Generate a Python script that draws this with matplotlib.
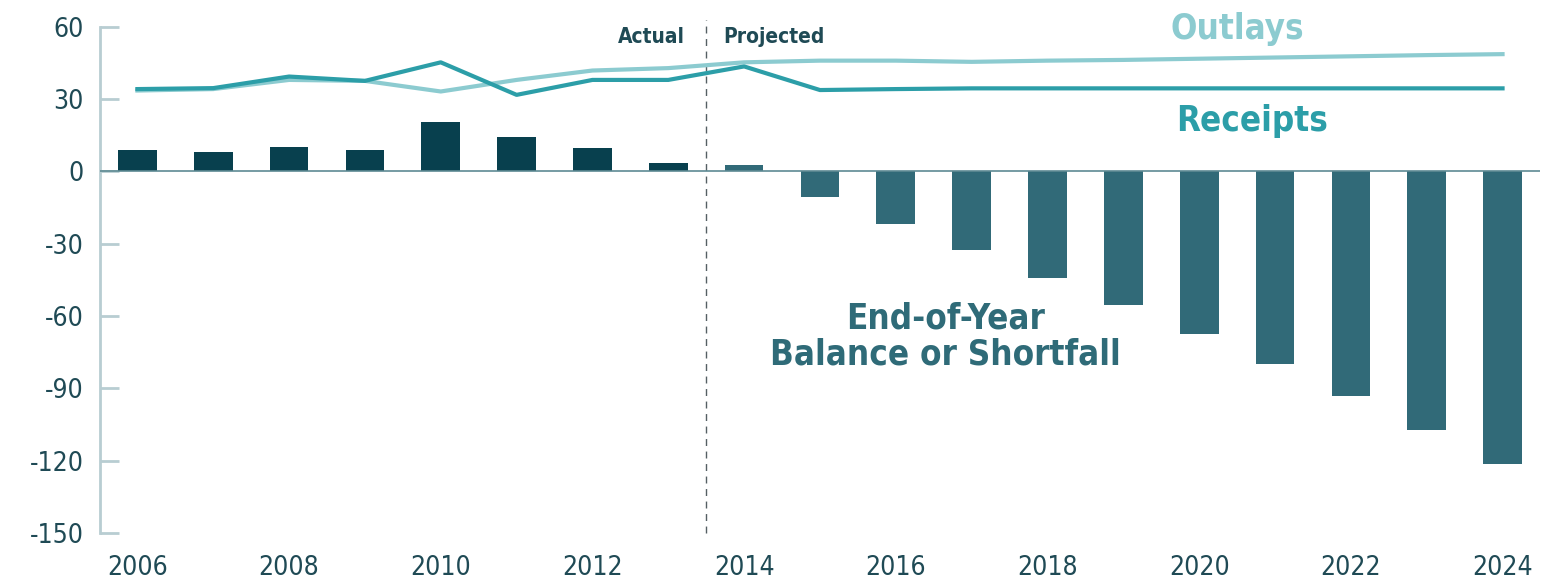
import numpy as np
import matplotlib
matplotlib.use("Agg")
import matplotlib.pyplot as plt

plt.rcParams['font.family'] = ['DejaVu Sans']
plt.rcParams['font.stretch'] = 'condensed'
plt.rcParams['axes.unicode_minus'] = False

# datos
years = list(range(2006, 2025))
balance = [9.0, 8.1, 10.1, 9.0, 20.5, 14.3, 9.9, 3.7, 2.5,
           -10.4, -21.8, -32.6, -44.0, -55.4, -67.6, -79.9, -93.3, -107.2, -121.4]
outlays = [33.6, 34.2, 38.0, 37.6, 33.2, 38.0, 41.9, 42.9, 45.3,
           46.0, 46.0, 45.5, 46.0, 46.3, 46.8, 47.3, 47.8, 48.3, 48.7]
receipts = [34.2, 34.6, 39.4, 37.6, 45.3, 31.8, 38.0, 38.0, 43.6,
            33.8, 34.2, 34.5, 34.5, 34.5, 34.5, 34.5, 34.5, 34.5, 34.5]
last_actual = 2013
yticks = [60, 30, 0, -30, -60, -90, -120, -150]
xticks = list(range(2006, 2025, 2))

c_actual = '#08404e'
c_proj = '#316a78'
c_out = '#8ccbd0'
c_rec = '#2c9ea8'
c_text = '#1f4a55'

fig = plt.figure(figsize=(15.42, 5.85), dpi=100)
ax = fig.add_axes([0.065, 0.089, 0.934, 0.865])

colores = [c_actual if y <= last_actual else c_proj for y in years]
ax.bar(years, balance, width=0.51, color=colores, zorder=2)
ax.axhline(0, color='#5e8a93', lw=1.2, zorder=3)

ax.plot(years, outlays, color=c_out, lw=3, zorder=4)
ax.plot(years, receipts, color=c_rec, lw=3, zorder=5)

# linea de separacion actual/proyectado
ax.plot([last_actual + 0.5, last_actual + 0.5], [-150, 63], ls=(0, (5, 4)),
        color='#555f63', lw=1.0, clip_on=False, zorder=1)
ax.text(last_actual + 0.22, 56, 'Actual', ha='right', va='center',
        fontsize=15, fontweight='bold', color=c_text)
ax.text(last_actual + 0.72, 56, 'Projected', ha='left', va='center',
        fontsize=15, fontweight='bold', color=c_text)

ax.text(2020.5, 59, 'Outlays', ha='center', va='center', fontsize=25,
        fontweight='bold', color=c_out)
ax.text(2020.7, 21, 'Receipts', ha='center', va='center', fontsize=25,
        fontweight='bold', color=c_rec)
ax.text(2016.65, -68.5, 'End-of-Year\nBalance or Shortfall', ha='center', va='center',
        fontsize=25, fontweight='bold', color='#2f6b78', linespacing=1.05)

ax.set_xlim(2005.51, 2024.5)
ax.set_ylim(-150, 60)
ax.set_yticks(yticks)
ax.set_xticks(xticks)
ax.tick_params(axis='y', direction='in', length=14, width=2, color='#b8cdd2',
               labelsize=19, labelcolor=c_text, pad=12)
ax.tick_params(axis='x', length=0, labelsize=19, labelcolor=c_text, pad=16)

for s in ['top', 'right', 'bottom']:
    ax.spines[s].set_visible(False)
ax.spines['left'].set_color('#b8cdd2')
ax.spines['left'].set_linewidth(2)

fig.savefig('out.png', dpi=100)
